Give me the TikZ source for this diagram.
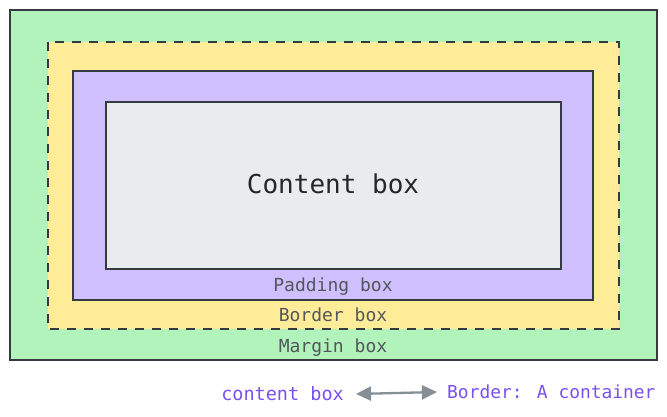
\documentclass[tikz,border=0pt]{standalone}
\usepackage{fontspec}
\usepackage{tikz}
\usetikzlibrary{arrows.meta}
\newfontfamily\boxfont{DejaVu Sans Mono}

\definecolor{marginfill}{HTML}{B2F2BB}
\definecolor{borderfill}{HTML}{FFEC99}
\definecolor{paddingfill}{HTML}{D0BFFF}
\definecolor{contentfill}{HTML}{E9ECEF}
\definecolor{edge}{HTML}{343A40}
\definecolor{notetext}{HTML}{7950F2}
\definecolor{arrowgray}{HTML}{868E96}

\begin{document}
\begin{tikzpicture}[x=1pt, y=-1pt,
    boxline/.style={draw=edge, line width=2.4pt},
    boxlabel/.style={font=\boxfont\fontsize{18}{20}\selectfont, text=edge!85, inner sep=0},
    note/.style={font=\boxfont\fontsize{18.5}{20}\selectfont, text=notetext, inner sep=2pt}]
\useasboundingbox (0, 0) rectangle (667, 417);

% margin box
\draw[boxline, fill=marginfill] ( 10, 10) rectangle (657, 360);
% border box
\fill[borderfill] ( 48, 42) rectangle (619, 329);
\draw[edge, line width=2.8pt, dash pattern=on 9pt off 8pt]
                  ( 48, 42) rectangle (619, 329);
% padding box
\draw[boxline, fill=paddingfill] ( 73, 71) rectangle (593, 300);
% content box
\draw[boxline, fill=contentfill] (106, 102) rectangle (561, 269);

\node[boxlabel, text=black!85, font=\boxfont\fontsize{26}{28}\selectfont]
    (content) at (333, 184) {Content box};
\node[boxlabel] (padding) at (333, 287) {Padding box};
\node[boxlabel] (border)  at (333, 315) {Border box};
\node[boxlabel] (margin)  at (333, 348) {Margin box};

% legend
\node[note, anchor=east] (cbox)  at (346, 394) {content box};
\node[note, anchor=west, font=\boxfont\fontsize{17.9}{20}\selectfont]
    (bnote) at (445, 392) {Border: A container};
\draw[arrowgray, line width=2.3pt,
      {Triangle[length=15pt, width=14pt]}-{Triangle[length=15pt, width=14pt]}]
    ([xshift=10pt]cbox.east) -- ([xshift=-8pt]bnote.west);
\end{tikzpicture}
\end{document}
